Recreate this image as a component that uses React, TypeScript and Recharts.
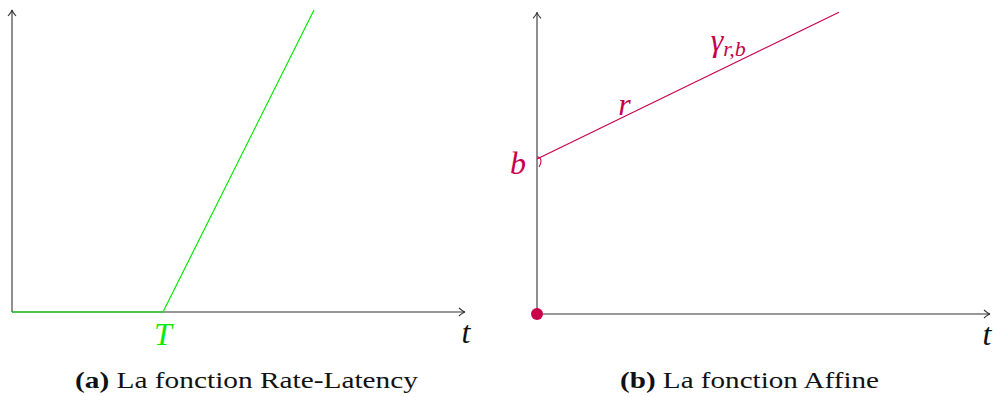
import React from 'react';
import { LineChart, Line, XAxis, YAxis, ReferenceLine, ReferenceDot } from 'recharts';

const GREEN = '#00ee00';
const CRIMSON = '#c8004a';
const AXIS = '#333333';
const PAGE_FONT = '"Liberation Serif", "FreeSerif", "Tinos"';

// (a) Rate-latency function
const rlTimes = [0, 1, 2];
const rlValues = [0, 0, 3];
const rlLatency = 1;

// (b) Affine function
const affTimes = [0, 2];
const affValues = [1.5, 2.92];
const affBurst = 1.5;
const affRate = 0.71;

// axes
const xAxisEnd = 3;
const yAxisEndLeft = 3;
const yAxisEndRight = 2.92;

// label anchors (in data units along t)
const rLabelT = 0.58;
const gammaLabelT = 1.15;

const captions = ['La fonction Rate-Latency', 'La fonction Affine'];
const captionTags = ['(a)', '(b)'];

const rlData = rlTimes.map((t, i) => ({ t, v: rlValues[i] }));
const affData = affTimes.map((t, i) => ({ t, v: affValues[i] }));

const ArrowLine = (props: any) => {
  const { x1, y1, x2, y2 } = props;
  const ang = Math.atan2(y2 - y1, x2 - x1);
  const c = Math.cos(ang);
  const s = Math.sin(ang);
  const len = 6;
  const w = 4;
  const bx = x2 - len * c;
  const by = y2 - len * s;
  const lx = bx - w * s;
  const ly = by + w * c;
  const rx = bx + w * s;
  const ry = by - w * c;
  const mx = x2 - 2 * c;
  const my = y2 - 2 * s;
  return (
    <g>
      <line x1={x1} y1={y1} x2={x2} y2={y2} stroke={AXIS} strokeWidth={1.1} />
      <path
        d={`M ${lx} ${ly} Q ${mx - 0.5 * s} ${my + 0.5 * c} ${x2} ${y2} Q ${mx + 0.5 * s} ${my - 0.5 * c} ${rx} ${ry}`}
        fill="none"
        stroke={AXIS}
        strokeWidth={1.1}
      />
    </g>
  );
};

const mathText = (txt: string, dx: number, dy: number, color: string, anchor: string = 'middle') => (p: any) => (
  <text
    x={p.cx + dx}
    y={p.cy + dy}
    textAnchor={anchor}
    fill={color}
    style={{ fontFamily: PAGE_FONT, fontStyle: 'italic', fontSize: 32 }}
  >
    {txt}
  </text>
);

const GammaLabel = (p: any) => (
  <text x={p.cx} y={p.cy - 24} fill={CRIMSON} style={{ fontFamily: PAGE_FONT, fontStyle: 'italic', fontSize: 32 }}>
    γ
    <tspan style={{ fontSize: 22 }} dy={5}>
      r,b
    </tspan>
  </text>
);

const Hook = (p: any) => {
  const { cx, cy } = p;
  return (
    <path
      d={`M ${cx + 0.5} ${cy - 2.5} Q ${cx + 4} ${cy - 1} ${cx + 4} ${cy + 2} Q ${cx + 4} ${cy + 5} ${cx + 2} ${cy + 8}`}
      fill="none"
      stroke={CRIMSON}
      strokeWidth={1.1}
    />
  );
};

export default function App() {
  return (
    <div
      style={{
        position: 'absolute',
        left: 0,
        top: 0,
        width: 993,
        height: 397,
        background: '#fff',
        fontFamily: PAGE_FONT,
      }}
    >
      <div style={{ position: 'absolute', left: 0, top: 0, fontFamily: PAGE_FONT }}>
        <LineChart width={480} height={360} data={rlData} margin={{ top: 10, right: 15, bottom: 48, left: 12 }}>
          <XAxis type="number" dataKey="t" domain={[0, xAxisEnd]} hide />
          <YAxis type="number" domain={[0, yAxisEndLeft]} hide />
          <ReferenceLine segment={[{ x: 0, y: 0 }, { x: xAxisEnd, y: 0 }]} shape={ArrowLine} />
          <ReferenceLine segment={[{ x: 0, y: 0 }, { x: 0, y: yAxisEndLeft }]} shape={ArrowLine} />
          <Line
            type="linear"
            dataKey="v"
            stroke={GREEN}
            strokeWidth={1.2}
            dot={false}
            activeDot={false}
            isAnimationActive={false}
          />
          <ReferenceDot x={rlLatency} y={0} r={0} shape={mathText('T', 0, 33, GREEN)} />
          <ReferenceDot x={xAxisEnd} y={0} r={0} shape={mathText('t', 1, 31, '#111')} />
        </LineChart>
      </div>
      <div style={{ position: 'absolute', left: 500, top: 0, fontFamily: PAGE_FONT }}>
        <LineChart width={493} height={360} data={affData} margin={{ top: 4, right: 3, bottom: 46, left: 37 }}>
          <XAxis type="number" dataKey="t" domain={[0, xAxisEnd]} hide />
          <YAxis type="number" domain={[0, 3]} hide />
          <ReferenceLine segment={[{ x: 0, y: 0 }, { x: xAxisEnd, y: 0 }]} shape={ArrowLine} />
          <ReferenceLine segment={[{ x: 0, y: 0 }, { x: 0, y: yAxisEndRight }]} shape={ArrowLine} />
          <Line
            type="linear"
            dataKey="v"
            stroke={CRIMSON}
            strokeWidth={1.2}
            dot={false}
            activeDot={false}
            isAnimationActive={false}
          />
          <ReferenceDot x={0} y={affBurst} r={0} shape={Hook} />
          <ReferenceDot x={0} y={affBurst} r={0} shape={mathText('b', -11, 15, CRIMSON, 'end')} />
          <ReferenceDot x={rLabelT} y={affBurst + affRate * rLabelT} r={0} shape={mathText('r', 0, -1, CRIMSON)} />
          <ReferenceDot x={gammaLabelT} y={affBurst + affRate * gammaLabelT} r={0} shape={GammaLabel} />
          <ReferenceDot x={0} y={0} r={6} fill={CRIMSON} stroke="none" />
          <ReferenceDot x={xAxisEnd} y={0} r={0} shape={mathText('t', -3, 31, '#111')} />
        </LineChart>
      </div>
      <svg style={{ position: 'absolute', left: 0, top: 0 }} width={993} height={397}>
        <text
          x={246.5}
          y={388}
          textAnchor="middle"
          fill="#111"
          textLength={343}
          lengthAdjust="spacingAndGlyphs"
          style={{ fontFamily: PAGE_FONT, fontSize: 22.5 }}
        >
          <tspan fontWeight="bold">{captionTags[0]}</tspan> {captions[0]}
        </text>
        <text
          x={749.5}
          y={388}
          textAnchor="middle"
          fill="#111"
          textLength={259}
          lengthAdjust="spacingAndGlyphs"
          style={{ fontFamily: PAGE_FONT, fontSize: 22.5 }}
        >
          <tspan fontWeight="bold">{captionTags[1]}</tspan> {captions[1]}
        </text>
      </svg>
    </div>
  );
}
